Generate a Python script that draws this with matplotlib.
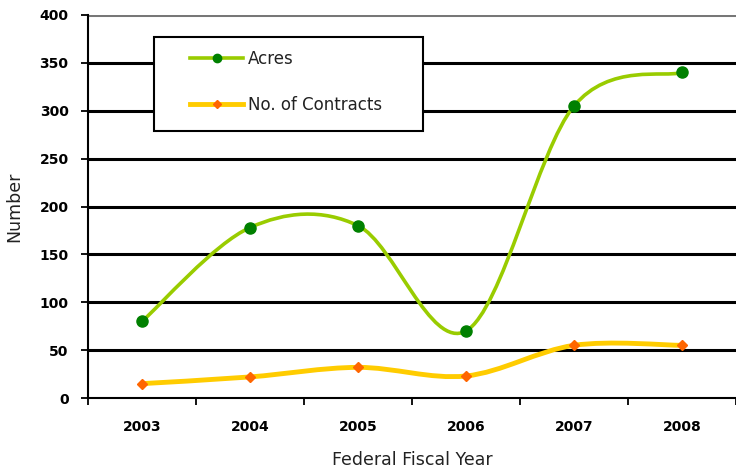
import numpy as np
import matplotlib.pyplot as plt
from matplotlib.path import Path
from matplotlib.patches import PathPatch, Rectangle
from matplotlib.lines import Line2D

years = ["2003", "2004", "2005", "2006", "2007", "2008"]
acres = [80, 178, 180, 70, 305, 340]
contracts = [15, 22, 32, 23, 55, 55]


def smooth_path(xs, ys):
    # excel style smoothed line: cubic bezier, catmull-rom tangents
    pts = np.column_stack([xs, ys]).astype(float)
    verts = [pts[0]]
    codes = [Path.MOVETO]
    n = len(pts)
    for i in range(n - 1):
        p0 = pts[i - 1] if i > 0 else pts[i]
        p1 = pts[i]
        p2 = pts[i + 1]
        p3 = pts[i + 2] if i + 2 < n else pts[i + 1]
        verts += [p1 + (p2 - p0) / 6, p2 - (p3 - p1) / 6, p2]
        codes += [Path.CURVE4] * 3
    return Path(verts, codes)


fig = plt.figure(figsize=(7.36, 4.70), dpi=100)
ax = fig.add_axes([88 / 736, 1 - 398 / 470, 648 / 736, 383 / 470])

x = np.arange(len(years))

green_line = "#99CC00"
green_mark = "#008000"
orange_line = "#FFCC00"
orange_mark = "#FF6600"

for yv in range(50, 401, 50):
    ax.axhline(yv, color="black" if yv < 400 else "#777777", lw=2.2, zorder=1)

ax.add_patch(PathPatch(smooth_path(x, contracts), fill=False, edgecolor=orange_line,
                       lw=3.5, zorder=3, capstyle="butt"))
ax.plot(x, contracts, ls="none", marker="D", ms=5, color=orange_mark, zorder=4)

ax.add_patch(PathPatch(smooth_path(x, acres), fill=False, edgecolor=green_line,
                       lw=2.6, zorder=3, capstyle="butt"))
ax.plot(x, acres, ls="none", marker="o", ms=8, color=green_mark, zorder=4)

ax.set_xlim(-0.5, len(years) - 0.5)
ax.set_ylim(0, 400)
ax.set_yticks(range(0, 401, 50))
ax.set_yticklabels([str(v) for v in range(0, 401, 50)], fontsize=10, fontweight="bold")
ax.set_xticks(x)
ax.set_xticklabels(years, fontsize=10, fontweight="bold")
ax.set_xticks(np.arange(-0.5, len(years), 1), minor=True)
ax.tick_params(axis="x", which="major", length=0, pad=16)
ax.tick_params(axis="x", which="minor", length=5, width=1.3, direction="out")
ax.tick_params(axis="y", length=5, width=1.3, pad=9)

for s in ["top", "right"]:
    ax.spines[s].set_visible(False)
ax.spines["left"].set_linewidth(1.5)
ax.spines["bottom"].set_linewidth(1.5)

ax.set_ylabel("Number", fontsize=12.5, color="#222222", labelpad=12)
ax.set_xlabel("Federal Fiscal Year", fontsize=12.5, color="#222222", labelpad=12)

# legend box
ax.add_patch(Rectangle((66 / 648, 267 / 383), 269 / 648, 94 / 383, transform=ax.transAxes,
                       facecolor="white", edgecolor="black", lw=1.5, zorder=5))
handles = [
    Line2D([], [], color=green_line, lw=2.6, marker="o", ms=6, mfc=green_mark, mec=green_mark),
    Line2D([], [], color=orange_line, lw=3.5, marker="D", ms=4, mfc=orange_mark, mec=orange_mark),
]
leg = ax.legend(handles, ["Acres", "No. of Contracts"], loc="upper left",
                bbox_to_anchor=(102 / 648, 348 / 383), fontsize=12, frameon=False,
                handlelength=3.2, handletextpad=0.25, labelspacing=1.7,
                borderpad=0, borderaxespad=0, numpoints=1)
leg.set_zorder(6)
for t in leg.get_texts():
    t.set_color("#222222")

plt.savefig("out.png", dpi=100)
